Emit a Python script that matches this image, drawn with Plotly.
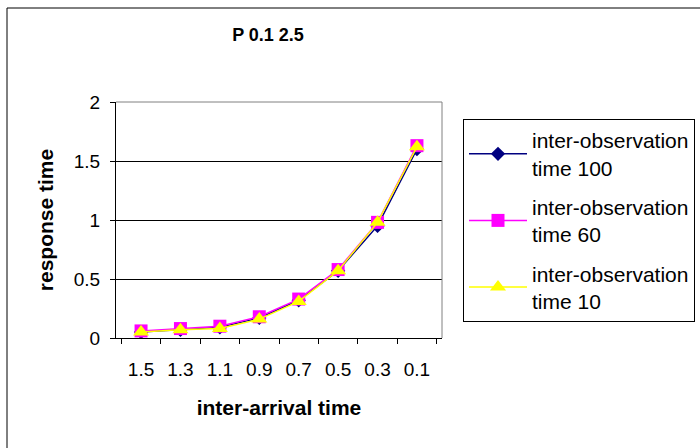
import plotly.graph_objects as go

# inter-arrival time categories (decreasing)
inter_arrival = ["1.5", "1.3", "1.1", "0.9", "0.7", "0.5", "0.3", "0.1"]

# mean response time for each inter-observation time
resp_obs100 = [0.05, 0.07, 0.09, 0.17, 0.32, 0.57, 0.95, 1.60]
resp_obs60 = [0.06, 0.08, 0.10, 0.18, 0.33, 0.58, 0.98, 1.63]
resp_obs10 = [0.05, 0.07, 0.08, 0.16, 0.31, 0.57, 0.98, 1.62]

series_names = ["inter-observation<br>time 100",
                "inter-observation<br>time 60",
                "inter-observation<br>time 10"]

FONT = "Liberation Sans, Arial, sans-serif"

fig = go.Figure()
styles = [
    (resp_obs100, "#000080", "diamond", 11),
    (resp_obs60, "#FF00FF", "square", 13),
    (resp_obs10, "#FFFF00", "triangle-up", 14),
]
for i, ((vals, color, symbol, size), name) in enumerate(zip(styles, series_names)):
    fig.add_trace(go.Scatter(
        x=inter_arrival, y=vals, name=name, mode="lines+markers",
        line=dict(color=color, width=1.5),
        marker=dict(symbol=symbol, size=size, color=color, line=dict(width=0)),
        legendgroup=f"g{i}",
    ))

fig.update_layout(
    width=700, height=448,
    margin=dict(l=116, r=258, t=102, b=110, autoexpand=False),
    paper_bgcolor="white", plot_bgcolor="white",
    font=dict(family=FONT, size=19, color="black"),
    title=dict(text="<b>P 0.1 2.5</b>", x=268 / 700, xanchor="center",
               y=1 - 35 / 448, yanchor="middle", font=dict(size=18)),
    showlegend=True,
    legend=dict(x=(463 - 116) / 326, y=(338 - 119) / 236,
                xanchor="left", yanchor="top",
                bordercolor="black", borderwidth=1,
                font=dict(size=21), tracegroupgap=9, itemwidth=58,
                bgcolor="white"),
    xaxis=dict(type="category", tickson="boundaries", ticks="outside",
               ticklen=5, tickcolor="black", showline=True, linecolor="black",
               linewidth=1, showgrid=False, tickfont=dict(size=19),
               ticklabelstandoff=14,
               title=dict(text="<b>inter-arrival time</b>", font=dict(size=21),
                          standoff=21)),
    yaxis=dict(range=[0, 2], dtick=0.5, ticks="outside", ticklen=5,
               tickcolor="black", showline=True, linecolor="black",
               linewidth=1, showgrid=True, gridcolor="black", gridwidth=1,
               zeroline=False, tickfont=dict(size=19), ticklabelstandoff=6,
               title=dict(text="<b>response time</b>", font=dict(size=21),
                          standoff=14)),
    shapes=[
        # grey frame on the top and right of the plotting area
        dict(type="line", xref="paper", yref="paper", x0=0, x1=1, y0=1, y1=1,
             line=dict(color="#808080", width=1)),
        dict(type="line", xref="paper", yref="paper", x0=1, x1=1, y0=0, y1=1,
             line=dict(color="#808080", width=1)),
        # outer chart border
        dict(type="rect", xref="paper", yref="paper",
             x0=(7 - 116) / 326, x1=(720 - 116) / 326,
             y0=(338 - 470) / 236, y1=(338 - 8) / 236,
             line=dict(color="black", width=1), layer="below"),
    ],
)

fig.write_html("out.html")
